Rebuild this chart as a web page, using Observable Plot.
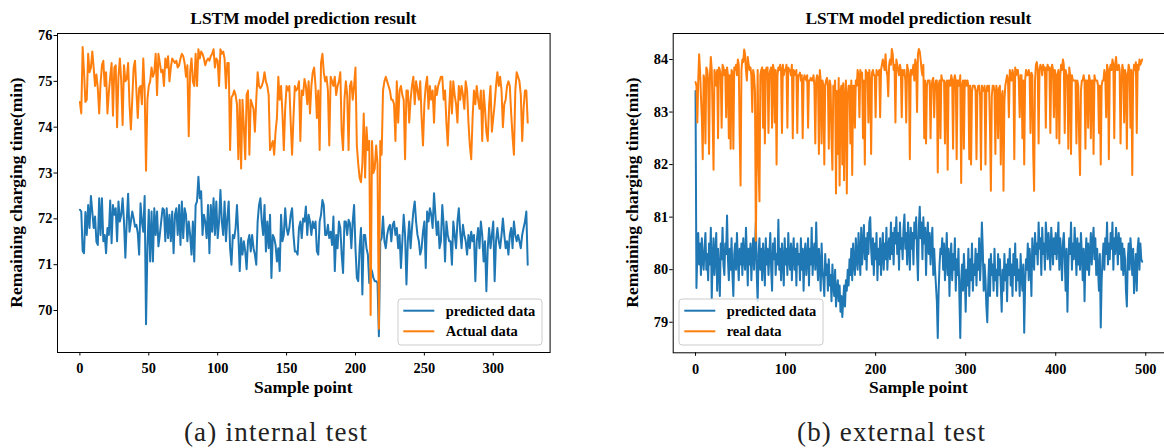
<!DOCTYPE html>
<html><head><meta charset="utf-8">
<script src="https://cdn.jsdelivr.net/npm/d3@7"></script>
<script src="https://cdn.jsdelivr.net/npm/@observablehq/plot@0.6"></script>
<style>
html,body{margin:0;padding:0;background:#fff;}
body{width:1164px;height:448px;overflow:hidden;position:relative;font-family:"Liberation Serif",serif;}
.panel{position:absolute;top:0;}
#overlay{position:absolute;left:0;top:0;pointer-events:none;}
</style></head><body>
<div id="pa" class="panel" style="left:0;width:560px"></div>
<div id="pb" class="panel" style="left:582px;width:592px"></div>
<svg id="overlay" width="1164" height="448"></svg>
<script>
// ---- (a) internal test ----
const predictedInternal = [
72.2,72.16,71.3,71.25,72.15,71.65,72.3,71.8,72.5,72.16,
71.8,72.05,71.5,71.43,72.45,71.65,72.45,71.51,71.65,71.25,
71.8,71.65,72.4,71.47,72.3,72.09,72.23,71.51,72.38,71.94,
72.09,72.45,71.94,71.15,71.94,72.55,71.72,71.94,72.16,72.01,
71.83,71.87,71.69,71.22,72.34,71.94,71.72,72.5,69.7,71.36,
72.2,71.07,72.16,71.07,72.23,71.65,72.16,71.4,71.65,71.94,
72.23,72.2,71.51,72.23,71.58,72.09,71.51,72.16,71.25,72.09,
72.23,71.65,72.3,71.43,72.38,71.58,72.23,72.09,71.51,71.94,
71.65,71.22,71.94,71.07,72.3,72.38,72.92,72.45,72.6,71.65,
72.09,71.94,71.58,72.3,71.25,72.3,71.72,72.45,71.65,72.38,
71.58,71.94,72.63,71.94,71.65,72.38,71.51,72.01,72.38,71.36,
71.0,71.65,71.58,71.8,72.3,71.65,70.86,71.58,71.22,71.51,
71.29,70.9,71.51,71.65,71.29,71.65,71.36,71.22,71.0,71.94,
72.3,72.45,71.94,71.65,72.3,71.29,71.94,71.36,72.09,70.71,
71.65,71.58,71.43,71.07,71.36,70.86,72.09,71.51,71.65,72.23,
71.8,71.65,71.8,72.09,72.23,71.65,71.29,71.29,71.22,71.8,
71.94,71.58,72.01,71.94,72.27,71.65,72.09,71.94,71.65,71.94,
71.8,71.94,71.29,71.22,71.94,72.09,72.41,72.3,71.65,71.65,
71.87,71.58,71.72,71.43,72.05,70.86,71.65,71.36,71.94,71.8,
71.22,70.82,71.94,71.94,71.65,71.98,71.9,71.36,71.94,72.3,
71.36,70.71,70.64,71.36,71.8,70.35,71.65,71.65,71.36,71.22,
70.6,70.93,70.86,70.71,70.64,70.64,70.6,69.44,71.51,71.58,
72.05,71.51,71.36,71.65,71.8,71.87,71.51,71.87,71.94,71.65,
71.8,71.36,71.65,70.93,71.51,72.09,71.65,70.57,71.51,71.94,
71.36,71.8,72.16,72.38,71.94,71.65,71.51,71.22,71.36,71.72,
71.94,70.93,72.16,71.94,72.23,72.09,71.8,72.56,72.09,71.65,
71.94,71.36,71.51,72.3,71.87,71.07,71.94,71.65,71.51,71.51,
71.0,71.94,71.65,71.36,71.94,72.23,71.72,71.36,71.87,71.65,
71.51,71.22,71.65,71.36,71.72,71.51,71.65,70.64,71.51,71.8,
71.36,71.94,71.65,71.07,71.51,70.42,71.36,71.8,71.36,71.65,
71.94,70.64,71.51,71.8,71.51,71.36,71.65,72.01,71.65,71.36,
71.51,71.22,71.65,71.8,71.36,71.94,71.65,71.51,71.65,71.51,
71.36,71.65,71.8,71.94,72.16,71.0
];
const actualInternal = [
74.55,74.3,75.75,75.2,74.55,74.6,75.6,75.2,75.3,75.65,
75.3,74.9,75.15,74.85,74.3,74.95,75.35,75.45,74.9,75.2,
74.3,74.75,75.1,75.4,74.25,75.3,75.35,74.0,75.1,75.5,
75.0,74.05,75.35,75.0,75.05,75.4,74.5,73.95,74.6,75.3,
75.45,74.8,74.2,74.85,74.9,74.5,75.5,74.8,73.05,74.6,
74.9,75.0,75.3,75.1,75.2,75.6,74.7,75.6,75.4,75.2,
75.25,74.9,75.5,75.3,75.55,75.0,75.3,75.5,75.45,75.4,
75.45,75.3,75.35,75.5,75.6,75.55,75.4,75.1,75.35,73.8,
75.2,75.5,75.0,74.9,75.6,74.9,75.7,75.5,75.65,75.6,
75.5,75.35,75.45,75.5,75.45,75.55,75.6,75.7,75.3,75.5,
75.45,74.9,75.7,75.6,75.65,75.5,74.85,75.4,75.4,73.5,
74.65,74.7,74.8,74.7,74.5,73.3,74.6,73.1,74.6,74.0,
73.3,74.7,74.8,73.4,74.6,74.5,74.4,73.9,74.6,75.2,
74.9,74.85,74.9,75.0,75.2,75.0,74.9,74.7,73.5,73.6,
73.7,73.4,73.9,74.2,75.1,74.6,74.9,74.3,73.5,74.4,
74.9,74.8,74.9,74.1,73.4,74.2,74.9,74.8,74.85,75.0,
73.7,74.8,74.7,75.05,74.9,74.5,75.0,74.3,74.9,75.2,
75.3,74.9,74.2,74.8,73.5,75.4,75.6,75.2,75.0,75.1,
74.8,73.6,75.1,75.0,74.9,75.1,74.7,74.9,75.0,75.2,
73.9,73.5,74.6,75.0,74.7,73.5,74.9,75.0,74.6,74.9,
75.3,73.6,73.2,72.9,72.8,73.2,74.3,72.9,74.0,73.5,
73.7,69.9,73.7,73.0,73.1,73.6,73.2,69.6,73.7,73.4,
74.8,75.0,75.1,75.0,74.9,74.8,74.6,74.6,74.5,
73.7,75.0,74.1,74.8,74.9,74.7,74.6,73.3,74.8,74.8,
74.1,74.6,74.9,75.1,74.5,75.0,74.8,74.6,75.0,74.2,
73.6,74.5,74.9,75.1,74.4,74.9,74.6,74.8,74.1,74.9,
74.7,74.9,75.0,75.1,75.1,74.6,74.8,74.1,73.6,74.4,
75.0,74.3,75.0,74.7,74.5,74.1,74.9,74.6,74.9,74.7,
74.4,75.0,74.8,74.1,73.6,73.3,74.2,74.8,74.5,74.9,
74.6,74.4,74.8,73.7,74.8,74.4,73.9,73.7,74.5,74.9,
73.9,74.2,74.5,74.9,75.2,74.9,75.1,74.8,74.0,74.5,
74.6,74.9,75.0,74.9,74.3,73.8,73.4,74.8,75.2,75.1,
75.0,74.7,73.7,74.4,74.8,74.8,74.1
];
const xTicksInternal = [0, 50, 100, 150, 200, 250, 300];
const yTicksInternal = [70, 71, 72, 73, 74, 75, 76];

// ---- (b) external test ----
const predictedExternal = [
83.4,79.65,80.3,80.7,80.1,80.5,79.9,80.6,80.2,80.0,
80.4,80.7,80.0,80.3,79.8,80.5,80.1,80.8,79.45,80.2,
80.6,79.9,80.3,80.7,79.6,80.4,80.0,79.5,80.5,80.2,
80.8,80.1,79.9,80.5,80.3,81.03,80.2,79.8,80.4,80.0,
80.6,79.9,79.5,80.3,80.5,80.0,80.7,80.2,79.8,80.4,
80.1,80.5,79.9,80.6,80.2,80.0,80.8,80.3,79.7,80.4,
80.1,80.5,79.8,80.3,80.6,80.0,80.4,80.9,79.9,79.4,
80.3,80.6,80.0,80.4,79.8,80.5,80.2,79.7,80.6,80.1,
80.4,79.9,80.3,80.7,80.0,79.6,80.5,80.2,80.6,79.9,
80.3,80.1,80.95,80.0,80.4,79.8,80.5,80.2,79.7,80.6,
80.1,80.4,79.9,80.7,80.2,80.0,80.5,79.8,80.3,80.6,
80.0,80.4,79.7,80.5,80.1,80.3,79.8,80.6,80.0,80.4,
79.6,80.3,80.5,79.9,80.2,80.6,79.7,80.4,80.1,80.8,
79.9,80.3,80.5,80.0,80.9,80.2,79.8,80.4,80.1,79.6,
80.5,80.0,79.8,79.5,80.3,79.9,80.1,79.6,80.2,79.7,
79.9,79.4,80.1,79.7,79.5,80.0,79.3,79.6,79.8,79.4,
79.7,79.2,79.5,79.1,79.4,79.7,79.3,79.8,79.6,80.0,
79.7,80.2,79.9,80.4,79.8,80.5,80.1,79.9,80.6,80.2,
80.0,80.7,80.3,79.9,80.8,80.1,80.5,80.85,80.2,80.6,
80.0,80.7,80.3,80.9,81.0,80.4,80.1,80.6,79.9,80.5,
80.2,80.7,79.8,80.4,80.1,80.6,79.9,80.3,80.7,80.0,
80.5,80.2,80.8,80.0,80.4,80.6,80.2,80.9,80.3,80.7,
80.1,80.8,80.5,81.0,80.3,80.7,80.0,80.9,80.4,80.6,
80.2,80.8,81.05,80.4,80.7,80.1,80.9,80.5,80.0,80.8,
80.4,80.7,80.1,80.9,80.6,81.0,80.3,79.8,80.8,81.2,
80.6,80.9,80.2,81.0,80.5,80.8,79.9,80.6,80.9,80.3,
80.7,80.1,80.5,80.8,79.9,80.4,80.0,79.7,79.4,78.7,
79.6,80.1,80.4,80.3,80.6,80.0,80.5,79.8,80.2,80.7,
79.9,80.4,79.5,80.2,80.5,79.8,80.3,80.0,80.6,79.6,
80.2,79.9,80.4,79.5,78.7,79.8,80.1,79.6,80.3,79.9,
79.2,80.0,79.7,80.4,79.5,80.2,79.8,80.5,79.6,80.1,
79.9,80.4,79.7,80.3,80.0,80.6,79.8,80.2,80.9,80.4,
79.6,80.1,79.8,79.3,79.0,79.7,80.2,79.5,80.3,79.9,
80.1,79.6,80.4,79.8,80.0,79.5,80.3,79.9,80.2,79.7,
79.2,80.0,79.6,80.3,79.8,80.1,79.4,80.2,79.9,80.4,
79.7,80.1,79.5,80.3,79.9,80.5,79.6,80.2,79.8,80.0,
79.5,80.3,79.9,79.6,80.1,78.8,79.7,80.2,80.0,80.5,
79.8,80.4,80.1,79.5,80.6,80.2,80.0,80.7,80.3,80.5,
80.1,80.9,80.4,80.6,79.9,80.8,80.3,80.5,80.0,80.9,
80.6,80.2,80.7,80.4,80.0,80.8,80.5,80.1,80.6,80.3,
80.7,80.2,80.5,80.9,80.0,80.6,80.3,79.8,80.5,80.7,
80.2,79.6,80.4,79.2,80.1,80.6,80.3,80.9,80.0,80.5,
80.2,80.8,80.4,79.9,80.6,80.1,80.5,80.0,80.7,80.3,
79.8,80.4,79.4,80.2,80.6,80.0,80.5,79.9,80.3,80.7,
80.1,80.5,80.8,80.2,80.6,79.9,80.4,80.0,79.6,80.3,
78.9,79.8,80.2,80.5,80.0,80.6,80.3,80.9,80.1,80.5,
80.2,80.7,80.4,80.9,80.0,80.6,80.3,80.8,80.5,80.1,
80.7,80.3,80.6,80.0,80.5,79.9,80.4,80.2,79.6,79.3,
80.2,80.5,80.0,80.6,80.3,79.9,80.4,79.55,80.0,80.3,
79.6,80.4,80.6,80.0,80.5,80.2,80.15
];
const realExternal = [
83.57,83.5,82.8,83.6,84.1,83.8,83.3,82.9,82.1,83.7,
83.6,82.4,83.85,83.8,83.6,82.2,83.7,84.05,83.8,82.9,
81.9,83.8,83.7,83.5,83.8,82.5,83.85,83.8,83.7,82.7,
83.9,83.85,83.7,83.8,82.9,83.85,83.7,82.5,83.7,82.3,
83.8,83.75,82.3,83.85,83.8,83.9,83.7,84.0,83.9,82.6,
81.6,83.8,84.0,83.95,84.19,84.1,83.8,83.6,84.05,83.9,
83.8,83.85,83.7,83.0,83.8,83.7,83.4,80.55,82.3,83.8,
82.0,81.3,83.7,83.8,83.85,82.7,83.8,82.4,83.8,83.85,
83.85,82.6,83.7,83.8,83.85,82.7,83.9,83.8,82.8,83.8,
82.0,83.7,83.85,83.8,83.9,83.8,82.6,83.9,83.7,83.8,
83.8,83.9,82.7,83.85,83.8,83.8,83.7,83.9,82.5,83.8,
83.75,83.7,83.8,82.6,83.7,83.7,83.75,83.6,83.7,82.5,
83.6,83.7,83.65,83.6,83.7,82.7,83.6,83.6,83.65,83.6,
83.6,83.7,83.5,82.4,83.6,83.7,83.65,82.2,83.8,83.6,
82.4,83.6,83.5,82.0,83.5,83.6,83.65,83.5,82.3,83.6,
83.5,82.5,81.9,83.5,83.4,83.6,81.45,83.4,82.2,83.65,
81.6,83.4,83.5,82.0,83.55,81.7,83.3,83.6,81.45,83.3,
83.5,83.5,82.4,83.6,81.8,83.5,83.5,82.7,83.6,83.5,
83.8,83.7,82.9,83.8,83.7,83.75,82.5,83.6,82.0,83.8,
83.7,83.75,82.8,83.8,83.6,82.2,83.75,83.8,83.7,83.7,
82.9,83.8,83.75,83.7,83.8,82.9,83.8,83.9,84.0,83.9,
83.8,84.1,83.8,83.7,83.3,83.9,84.0,83.9,84.2,84.1,
83.8,83.9,82.8,84.0,83.9,83.8,83.7,83.9,83.8,82.9,
83.8,83.7,83.8,83.6,82.8,83.9,83.8,83.7,82.1,83.8,
83.7,83.8,83.9,83.6,84.0,83.9,83.0,84.1,84.2,84.15,
84.0,83.8,83.7,83.9,82.5,83.6,82.4,83.5,83.6,83.6,
83.6,82.5,83.5,83.6,83.65,82.9,83.5,83.6,83.6,81.85,
83.5,83.6,82.5,83.7,83.6,83.6,83.6,82.4,83.55,83.6,
81.9,83.6,83.6,83.5,83.7,83.6,82.3,83.6,83.7,83.6,
82.1,83.6,83.6,83.5,83.7,81.65,83.5,83.6,82.3,83.6,
83.6,83.5,83.6,83.5,82.1,83.5,82.0,83.4,83.5,83.5,
83.5,83.4,82.1,83.4,83.5,83.5,83.3,81.9,83.5,83.4,
83.4,83.5,82.0,83.4,83.5,83.4,83.5,82.7,81.5,83.3,
83.5,83.5,83.4,82.2,83.5,83.4,82.5,83.45,83.5,82.0,
83.3,83.4,81.5,83.2,83.5,83.6,83.7,83.6,82.9,83.8,
83.7,83.6,83.8,83.7,82.1,83.85,83.7,83.8,83.8,83.6,
82.9,83.7,83.7,82.5,83.6,82.0,83.6,83.8,83.7,83.7,
83.8,83.7,82.6,83.75,83.7,82.2,81.5,83.6,83.9,83.95,
83.8,82.4,83.8,83.9,83.85,83.7,83.9,83.8,83.85,82.7,
83.8,83.9,83.8,83.85,82.6,83.8,83.9,83.8,82.9,83.8,
83.7,82.5,83.7,83.8,82.4,83.7,83.9,83.8,84.0,83.9,
82.6,83.8,83.7,83.7,82.3,83.85,83.7,82.2,83.7,83.6,
83.6,83.6,83.6,82.4,83.6,83.5,82.5,81.8,83.4,83.6,
83.6,83.7,83.6,82.3,83.6,83.6,82.7,83.7,83.6,82.5,
83.6,83.6,82.2,83.7,83.6,83.6,83.6,83.5,82.6,83.5,
82.0,83.5,83.6,83.6,83.8,83.7,82.9,83.9,83.8,82.1,
83.8,83.9,83.8,84.0,83.9,82.5,83.9,84.05,83.8,83.8,
83.9,83.8,82.4,83.6,83.9,83.8,82.8,83.8,83.7,82.3,
83.7,83.9,83.8,82.7,83.8,81.8,83.7,83.9,83.8,83.95,
82.6,83.9,83.8,84.0,83.9,83.95,84.0
];
const xTicksExternal = [0, 100, 200, 300, 400, 500];
const yTicksExternal = [79, 80, 81, 82, 83, 84];

// ---- texts ----
const chartTitle = "LSTM model prediction result";
const yLabel = "Remaining charging time(min)";
const xLabel = "Sample point";
const legendInternal = ["predicted data", "Actual data"];
const legendExternal = ["predicted data", "real data"];
const captions = ["(a) internal test", "(b) external test"];
const colors = ["#1f77b4", "#ff7f0e"];

const FONT = "Liberation Serif";
const baseStyle = {fontFamily: FONT, fontSize: "14.4px", fontWeight: "bold", color: "#000",
  background: "transparent", maxWidth: "none", overflow: "visible"};

function autoX(n) { return [-(n - 1) * 0.05, (n - 1) * 1.05]; }

const plotA = Plot.plot({
  width: 560, height: 400,
  marginLeft: 57, marginTop: 33, marginRight: 10.4, marginBottom: 48,
  style: baseStyle,
  x: {domain: autoX(actualInternal.length), ticks: xTicksInternal, tickFormat: "d", tickSize: 3.5, tickPadding: 7, label: null},
  y: {domain: [69.084, 76.044], ticks: yTicksInternal, tickFormat: "d", tickSize: 3.5, tickPadding: 1.5, label: null},
  marks: [
    Plot.lineY(predictedInternal, {stroke: colors[0], strokeWidth: 2}),
    Plot.lineY(actualInternal, {stroke: colors[1], strokeWidth: 2}),
    Plot.frame({stroke: "#000", strokeWidth: 1})
  ]
});
document.getElementById("pa").appendChild(plotA);

const plotB = Plot.plot({
  width: 592, height: 400,
  marginLeft: 90.7, marginTop: 33, marginRight: 10, marginBottom: 47.7,
  style: baseStyle,
  x: {domain: autoX(realExternal.length), ticks: xTicksExternal, tickFormat: "d", tickSize: 3.5, tickPadding: 7, label: null},
  y: {domain: [78.418, 84.495], ticks: yTicksExternal, tickFormat: "d", tickSize: 3.5, tickPadding: 1.5, label: null},
  marks: [
    Plot.lineY(predictedExternal, {stroke: colors[0], strokeWidth: 2}),
    Plot.lineY(realExternal, {stroke: colors[1], strokeWidth: 2}),
    Plot.frame({stroke: "#000", strokeWidth: 1})
  ]
});
document.getElementById("pb").appendChild(plotB);

// ---- overlay texts & legends ----
const ov = d3.select("#overlay");
const panels = [
  {cx: 303.3, ylx: 21.5, leg: legendInternal, lx: 398, cap: captions[0], capx: 275.4, capw: 183},
  {cx: 918.4, ylx: 637.5, leg: legendExternal, lx: 679, cap: captions[1], capx: 891, capw: 188}
];
function txt(sel) { return sel.append("text").attr("font-family", FONT); }
panels.forEach(p => {
  txt(ov).attr("x", p.cx).attr("y", 24).attr("text-anchor", "middle")
    .attr("font-weight", "bold").attr("font-size", 17.4).text(chartTitle);
  txt(ov).attr("x", p.cx).attr("y", 393).attr("text-anchor", "middle")
    .attr("font-weight", "bold").attr("font-size", 17.5).text(xLabel);
  txt(ov).attr("transform", `translate(${p.ylx},192.5) rotate(-90)`).attr("text-anchor", "middle")
    .attr("font-weight", "bold").attr("font-size", 17.5).text(yLabel);
  const g = ov.append("g");
  g.append("rect").attr("x", p.lx).attr("y", 299).attr("width", 144).attr("height", 46).attr("rx", 3)
    .attr("fill", "#fff").attr("fill-opacity", 0.8).attr("stroke", "#cccccc").attr("stroke-width", 1);
  p.leg.forEach((t, i) => {
    const y = 310.7 + i * 20.6;
    g.append("line").attr("x1", p.lx + 5.3).attr("x2", p.lx + 36.3).attr("y1", y).attr("y2", y)
      .attr("stroke", colors[i]).attr("stroke-width", 2);
    txt(g).attr("x", p.lx + 47.7).attr("y", y + 5).attr("font-weight", "bold")
      .attr("font-size", 14.5).text(t);
  });
  txt(ov).attr("x", p.capx).attr("y", 441).attr("text-anchor", "middle")
    .attr("font-size", 27).attr("fill", "#222").attr("textLength", p.capw).attr("lengthAdjust", "spacing")
    .text(p.cap);
});
</script>
</body></html>
